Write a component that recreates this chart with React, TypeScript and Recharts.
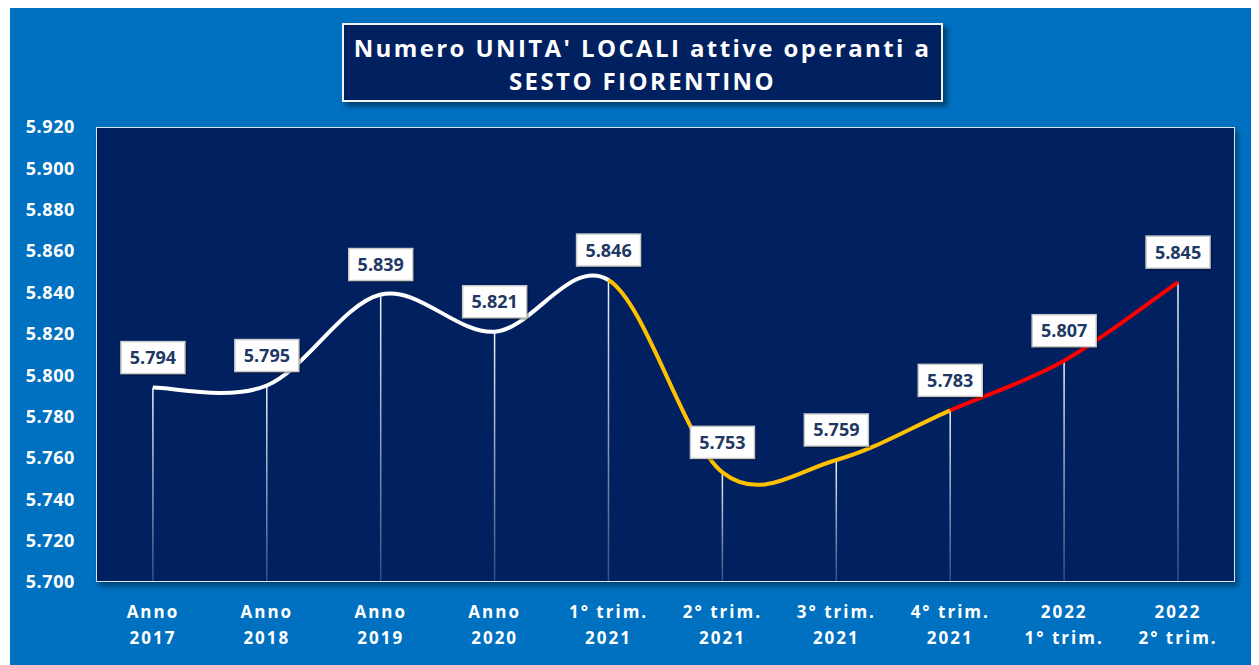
import React from 'react';
import { ComposedChart, Line, Bar, XAxis, YAxis, LabelList } from 'recharts';

const categories = ['Anno 2017', 'Anno 2018', 'Anno 2019', 'Anno 2020', '1° trim. 2021', '2° trim. 2021', '3° trim. 2021', '4° trim. 2021', '2022 1° trim.', '2022 2° trim.'];
const labelTop = ['Anno', 'Anno', 'Anno', 'Anno', '1° trim.', '2° trim.', '3° trim.', '4° trim.', '2022', '2022'];
const labelBottom = ['2017', '2018', '2019', '2020', '2021', '2021', '2021', '2021', '1° trim.', '2° trim.'];
const unitaLocali = [5794, 5795, 5839, 5821, 5846, 5753, 5759, 5783, 5807, 5845];
const yTicks = [5700, 5720, 5740, 5760, 5780, 5800, 5820, 5840, 5860, 5880, 5900, 5920];

// parts of the line drawn in different colours (indexes into the data)
const segments = [
  { from: 0, to: 4, color: '#FFFFFF' },
  { from: 4, to: 7, color: '#FFC000' },
  { from: 7, to: 9, color: '#FF0000' },
];

const data = categories.map((c, i) => ({ name: c, value: unitaLocali[i] }));

const fmt = (v: number) => `${Math.floor(v / 1000)}.${String(v % 1000).padStart(3, '0')}`;

const FONT = '"Open Sans", "Noto Sans", sans-serif';
const NAVY = '#002060';

// smoothed curve (Excel-like) that only draws the points from..to but uses all points for tangents
const segmentCurve = (from: number, to: number) => (context: any) => {
  let pts: number[][] = [];
  return {
    areaStart() {},
    areaEnd() {},
    lineStart() { pts = []; },
    point(x: number, y: number) { pts.push([+x, +y]); },
    lineEnd() {
      const n = pts.length;
      for (let i = from; i < to && i + 1 < n; i++) {
        const p0 = pts[Math.max(i - 1, 0)];
        const p1 = pts[i];
        const p2 = pts[i + 1];
        const p3 = pts[Math.min(i + 2, n - 1)];
        if (i === from) context.moveTo(p1[0], p1[1]);
        context.bezierCurveTo(
          p1[0] + (p2[0] - p0[0]) / 6, p1[1] + (p2[1] - p0[1]) / 6,
          p2[0] - (p3[0] - p1[0]) / 6, p2[1] - (p3[1] - p1[1]) / 6,
          p2[0], p2[1]
        );
      }
    },
  };
};

const DropLine = (props: any) => {
  const { x, y, width, height } = props;
  if (height == null || height <= 0) return null;
  return <rect x={x + width / 2 - 0.75} y={y} width={1.5} height={height} fill="url(#dropFade)" />;
};

const XTick = (props: any) => {
  const { x, y, index } = props;
  return (
    <text x={x} y={y} textAnchor="middle" fill="#fff" fontSize={17} fontWeight={700} fontFamily={FONT} letterSpacing={2}>
      <tspan x={x} dy={28}>{labelTop[index]}</tspan>
      <tspan x={x} dy={26}>{labelBottom[index]}</tspan>
    </text>
  );
};

const ValueLabel = (props: any) => {
  const { x, y, value } = props;
  const w = 64, h = 32;
  const cy = y - 30;
  return (
    <g>
      <rect x={x - w / 2 + 2} y={cy - h / 2 + 2} width={w} height={h} fill="rgba(0,0,0,0.35)" />
      <rect x={x - w / 2} y={cy - h / 2} width={w} height={h} fill="#fff" stroke="#c9c9c9" strokeWidth={1.5} />
      <text x={x} y={cy} dy="0.36em" textAnchor="middle" fill="#1F3864" fontSize={18} fontWeight={700} fontFamily={FONT}>
        {fmt(value)}
      </text>
    </g>
  );
};

const App: React.FC = () => {
  return (
    <div style={{ position: 'relative', marginLeft: 2, width: 1249, height: 657, background: '#0070C0', fontFamily: FONT }}>
      <div
        style={{
          position: 'absolute', left: 332, top: 15, width: 601, height: 79, boxSizing: 'border-box',
          background: NAVY, border: '2px solid #f2f2f2', boxShadow: '4px 4px 5px rgba(0,0,0,0.45)',
          color: '#fff', fontWeight: 700, fontSize: 24, letterSpacing: 2.4, textAlign: 'center', lineHeight: '33px', paddingTop: 6,
          whiteSpace: 'nowrap',
        }}
      >
        Numero UNITA' LOCALI attive operanti a<br />SESTO FIORENTINO
      </div>
      <div
        style={{
          position: 'absolute', left: 86, top: 119, width: 1139, height: 455, boxSizing: 'border-box',
          background: NAVY, border: '1.5px solid #dce4f0', boxShadow: '3px 4px 5px rgba(0,0,0,0.4)',
        }}
      />
      <div style={{ position: 'absolute', left: 0, top: 0 }}>
        <ComposedChart width={1249} height={657} data={data} margin={{ top: 119, right: 24, bottom: 13, left: 6 }}>
          <defs>
            <linearGradient id="dropFade" x1="0" y1="0" x2="0" y2="1">
              <stop offset="0%" stopColor="#ffffff" stopOpacity={0.95} />
              <stop offset="100%" stopColor="#ffffff" stopOpacity={0.2} />
            </linearGradient>
          </defs>
          <XAxis dataKey="name" axisLine={false} tickLine={false} height={70} tick={<XTick />} interval={0} />
          <YAxis
            domain={[5700, 5920]}
            ticks={yTicks}
            allowDataOverflow
            axisLine={false}
            tickLine={false}
            width={80}
            tickSize={0}
            tickMargin={21}
            tickFormatter={fmt}
            tick={{ fill: '#fff', fontSize: 18, fontWeight: 700, fontFamily: FONT, letterSpacing: 0.6 }}
          />
          <Bar dataKey="value" shape={<DropLine />} isAnimationActive={false} />
          {segments.map((s) => (
            <Line
              key={s.from}
              dataKey="value"
              type={segmentCurve(s.from, s.to) as any}
              stroke={s.color}
              strokeWidth={4}
              dot={false}
              activeDot={false}
              isAnimationActive={false}
            />
          ))}
          <Line dataKey="value" stroke="none" dot={false} activeDot={false} isAnimationActive={false}>
            <LabelList dataKey="value" content={<ValueLabel />} />
          </Line>
        </ComposedChart>
      </div>
    </div>
  );
};

export default App;
